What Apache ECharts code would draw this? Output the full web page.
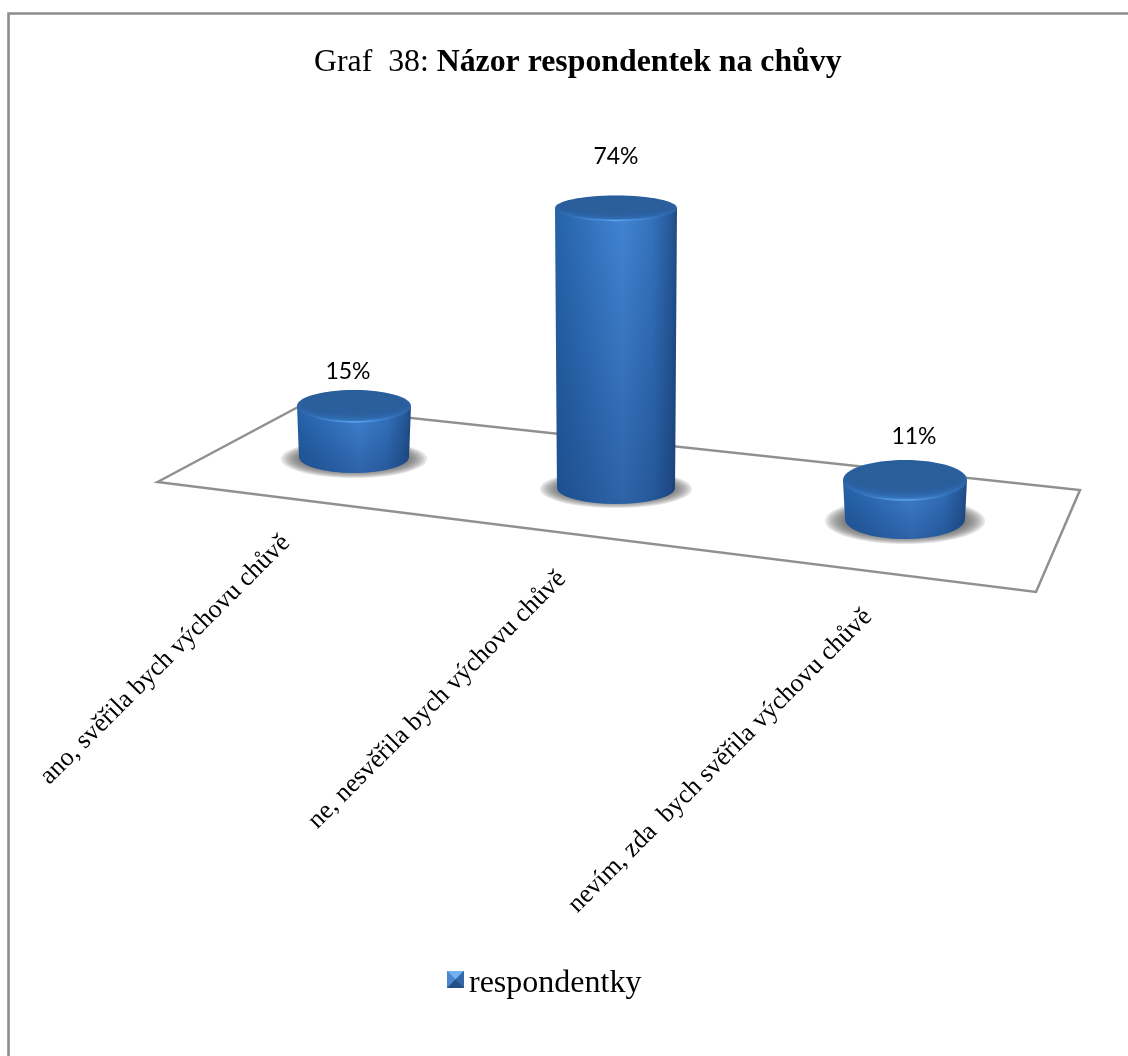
<!DOCTYPE html>
<html>
<head>
<meta charset="utf-8">
<style>html,body{margin:0;padding:0;background:#fff}#c{width:1128px;height:1056px}</style>
<script src="https://cdn.jsdelivr.net/npm/echarts@6/dist/echarts.min.js"></script>
</head>
<body>
<div id="c"></div>
<script>
const titlePrefix = 'Graf  38: ';
const titleBold = 'Názor respondentek na chůvy';
const seriesName = 'respondentky';
const categories = ['ano, svěřila bych výchovu chůvě', 'ne, nesvěřila bych výchovu chůvě', 'nevím, zda  bych svěřila výchovu chůvě'];
const values = [15, 74, 11];

// 3D projection of the original picture, per category (not data)
const proj = [
  {dx: 0,     baseShift: -31, hScale: 0.907, rx: 57, ryTop: 16,   ryBase: 16, shRx: 73, shRy: 19, shY: 2, lblDx: -6, lblDy: -34, catX: 286, catY: 539},
  {dx: -13.5, baseShift: 0,   hScale: 1.009, rx: 61, ryTop: 12.5, ryBase: 16, shRx: 76, shRy: 19, shY: 1, lblDx: 0,  lblDy: -51.5, catX: 562, catY: 575},
  {dx: 0,     baseShift: 31,  hScale: 0.945, rx: 62, ryTop: 20,   ryBase: 20, shRx: 80, shRy: 23, shY: 2, lblDx: 9,  lblDy: -43, catX: 868, catY: 613}
];
const G = echarts.graphic.LinearGradient;

function renderBar(params, api) {
  const i = api.value(0), v = api.value(1), p = proj[i];
  const c0 = api.coord([i, 0]), c1 = api.coord([i, v]);
  const cx = c0[0] + p.dx, by = c0[1] + p.baseShift;
  const ty = by - (c0[1] - c1[1]) * p.hScale;
  const rx = p.rx, rb = rx - 2;
  const body = 'M' + (cx - rx) + ' ' + ty + 'L' + (cx - rb) + ' ' + by +
    'A' + rb + ' ' + p.ryBase + ' 0 0 0 ' + (cx + rb) + ' ' + by +
    'L' + (cx + rx) + ' ' + ty + 'Z';
  const arc = 'M' + (cx - rx * 0.7) + ' ' + (ty + p.ryTop * 0.71) +
    'A' + rx + ' ' + p.ryTop + ' 0 0 0 ' + (cx + rx * 0.7) + ' ' + (ty + p.ryTop * 0.71);
  const children = [];
  for (let k = 0; k < 8; k++) {
    children.push({type: 'ellipse', shape: {cx: cx, cy: by + p.shY, rx: p.shRx - k * 2.6, ry: p.shRy - k * 1},
      style: {fill: 'rgba(95,95,95,0.17)'}});
  }
  children.push(
    {type: 'path', shape: {pathData: body}, style: {fill: new G(0, 0, 1, 0, [
      {offset: 0, color: '#2663a8'}, {offset: 0.2, color: '#2f6fb9'}, {offset: 0.55, color: '#4284d4'},
      {offset: 0.8, color: '#3473bd'}, {offset: 0.95, color: '#27599a'}, {offset: 1, color: '#1f4c82'}])}},
    {type: 'path', shape: {pathData: body}, style: {fill: new G(0, 0, 0, 1, [
      {offset: 0, color: 'rgba(10,40,90,0)'}, {offset: 1, color: 'rgba(10,40,90,0.36)'}])}},
    {type: 'ellipse', shape: {cx: cx, cy: ty, rx: rx, ry: p.ryTop}, style: {fill: new G(0, 0, 0, 1, [
      {offset: 0, color: '#2b5f9d'}, {offset: 0.55, color: '#2c63a6'}, {offset: 1, color: '#3778c4'}])}}
  );
  for (let k = 0; k < 5; k++) {
    children.push({type: 'ellipse',
      shape: {cx: cx, cy: ty - p.ryTop * (0.06 + k * 0.04), rx: rx * (0.96 - k * 0.035), ry: p.ryTop * (0.92 - k * 0.08)},
      style: {fill: 'rgba(43,95,155,0.4)'}});
  }
  children.push(
    {type: 'path', shape: {pathData: arc}, style: {fill: 'none', lineWidth: 1.5, stroke: new G(0, 0, 1, 0, [
      {offset: 0, color: 'rgba(90,160,235,0)'}, {offset: 0.5, color: 'rgba(95,165,240,1)'}, {offset: 1, color: 'rgba(90,160,235,0)'}])}},
    {type: 'text', x: cx + p.lblDx, y: ty + p.lblDy, style: {text: v + '%', align: 'center', verticalAlign: 'middle',
      font: '23px Lato, "Open Sans", sans-serif', fill: '#000'}},
    {type: 'text', x: p.catX, y: p.catY, rotation: Math.PI / 4, style: {text: categories[i], align: 'right', verticalAlign: 'middle',
      font: '26px "Liberation Serif", serif', fill: '#000'}}
  );
  return {type: 'group', children: children};
}

const legendIcon = 'image://data:image/svg+xml,' + encodeURIComponent(
  '<svg xmlns="http://www.w3.org/2000/svg" width="17" height="26">' +
  '<rect width="17" height="17" fill="#3a74bb"/>' +
  '<path d="M0 0H17L8.5 8.5Z" fill="#6fb2ef"/><path d="M0 0V17L8.5 8.5Z" fill="#4a87cc"/>' +
  '<path d="M17 0V17L8.5 8.5Z" fill="#3268a8"/><path d="M0 17H17L8.5 8.5Z" fill="#234f86"/></svg>');

const chart = echarts.init(document.getElementById('c'), null, {renderer: 'canvas'});
chart.setOption({
  animation: false,
  backgroundColor: '#fff',
  title: {
    text: '{a|' + titlePrefix + '}{b|' + titleBold + '}',
    left: 314, top: 41, padding: 0,
    textStyle: {rich: {
      a: {fontFamily: '"Liberation Serif", serif', fontSize: 31.8, fontWeight: 'normal', color: '#000', lineHeight: 44},
      b: {fontFamily: '"Liberation Serif", serif', fontSize: 31.8, fontWeight: 'bold', color: '#000', lineHeight: 44}
    }}
  },
  legend: {
    left: 442, top: 963, itemWidth: 17, itemHeight: 26, itemGap: 7,
    data: [{name: seriesName, icon: legendIcon}],
    textStyle: {fontFamily: '"Liberation Serif", serif', fontSize: 32, color: '#000', padding: [0, 0, 0, 0]}
  },
  grid: {left: 216.25, width: 826.5, top: 188, height: 300},
  xAxis: {type: 'category', data: categories, show: false},
  yAxis: {type: 'value', min: 0, max: 80, show: false},
  graphic: [
    {type: 'polyline', z: 0, shape: {points: [[8.5, 1060], [8.5, 13.5], [1135, 13.5]]},
      style: {fill: 'none', stroke: '#8c8c8c', lineWidth: 2.6}},
    {type: 'polygon', z: 0, shape: {points: [[157.5, 482], [300, 406], [1080, 490], [1036, 592]]},
      style: {fill: 'none', stroke: '#909090', lineWidth: 2.5}}
  ],
  series: [{
    type: 'custom', name: seriesName, z: 5, clip: false,
    itemStyle: {color: '#3a74bb'},
    encode: {x: 0, y: 1},
    data: categories.map((c, i) => [i, values[i]]),
    renderItem: renderBar
  }]
});
</script>
</body>
</html>
